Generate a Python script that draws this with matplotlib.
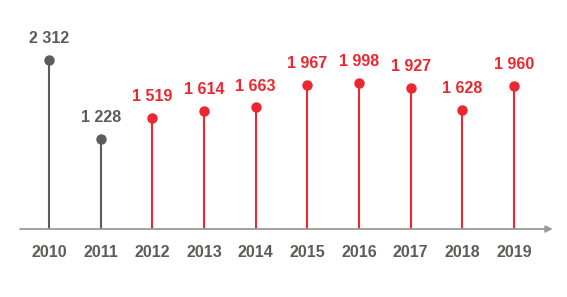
import matplotlib.pyplot as plt

years = ['2010', '2011', '2012', '2013', '2014', '2015', '2016', '2017', '2018', '2019']
values = [2312, 1228, 1519, 1614, 1663, 1967, 1998, 1927, 1628, 1960]
labels = ['2 312', '1 228', '1 519', '1 614', '1 663', '1 967', '1 998', '1 927', '1 628', '1 960']

grey = '#5f5b58'
red = '#ec2730'
colors = [grey, grey] + [red] * 8

plt.rcParams['font.family'] = ['Liberation Sans', 'DejaVu Sans']

fig = plt.figure(figsize=(5.67, 2.97), dpi=100)
ax = fig.add_axes([0, 0, 1, 1])
ax.set_xlim(-0.948, 10.026)
ax.set_ylim(-930, 3133)
ax.axis('off')

# baseline with arrow
ax.annotate('', xy=(9.75, 0), xytext=(-0.56, 0),
            arrowprops=dict(arrowstyle='-|>', color='#9a9a9a', lw=1.3,
                            mutation_scale=10, shrinkA=0, shrinkB=0))

for i, (v, c) in enumerate(zip(values, colors)):
    ax.plot([i, i], [0, v], color=c, lw=1.5, solid_capstyle='butt')
    ax.plot(i, v, 'o', color=c, markersize=6.5)
    ax.annotate(labels[i], (i, v), xytext=(0, 10), textcoords='offset points',
                ha='center', va='bottom', color=c, fontsize=11.5, fontweight='bold')
    ax.annotate(years[i], (i, 0), xytext=(0, -17), textcoords='offset points',
                ha='center', va='center', color=grey, fontsize=11.5, fontweight='bold')

fig.savefig('out.png', dpi=100)
